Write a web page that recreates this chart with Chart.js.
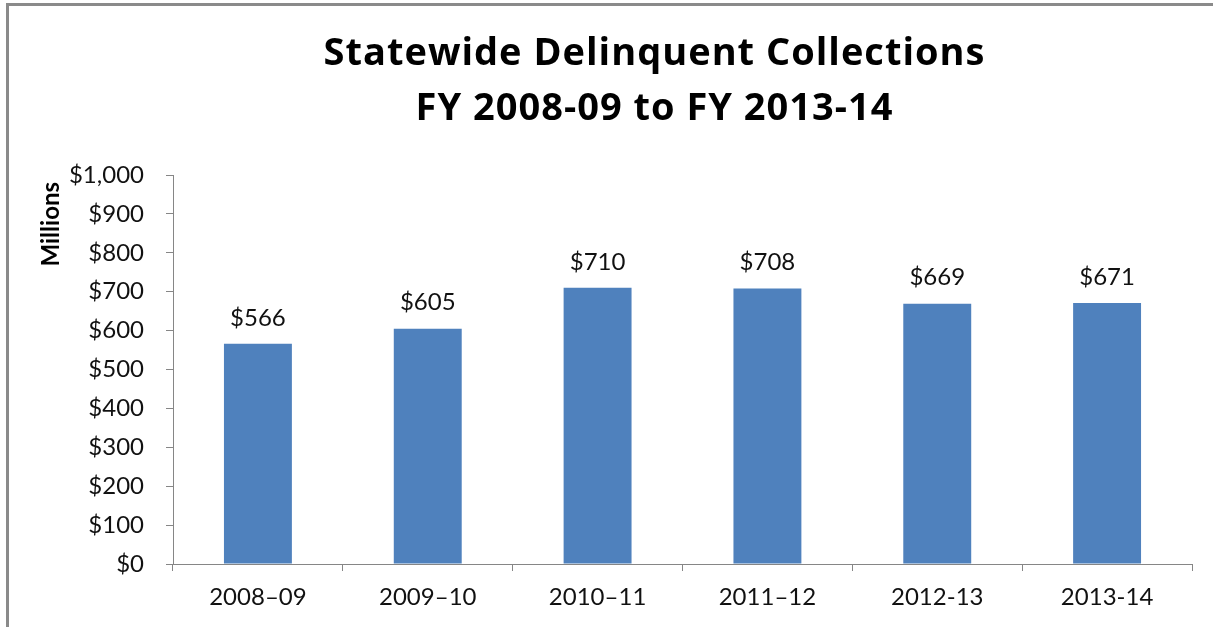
<!DOCTYPE html>
<html>
<head>
<meta charset="utf-8">
<script src="https://cdn.jsdelivr.net/npm/chart.js@4.4.1/dist/chart.umd.min.js"></script>
<style>
  html, body { margin: 0; padding: 0; background: #fff; overflow: hidden; }
  #wrap { position: absolute; left: 0; top: 0; width: 1213px; height: 627px; }
  #frame {
    position: absolute; left: 6px; top: 3px; width: 1400px; height: 800px;
    border-left: 3px solid #8a8a8a; border-top: 3px solid #8a8a8a;
    pointer-events: none;
  }
</style>
</head>
<body>
<div id="wrap"><canvas id="chart" width="1213" height="627"></canvas></div>
<div id="frame"></div>
<script>
// data (millions of dollars)
const years = ['2008\u201309', '2009\u201310', '2010\u201311', '2011\u201312', '2012-13', '2013-14'];
const collections = [566, 605, 710, 708, 669, 671];
const titleLines = ['Statewide Delinquent Collections', 'FY 2008-09 to FY 2013-14'];
const axisTitle = 'Millions';

const FONT = 'Lato, "Open Sans", sans-serif';
const TITLE_FONT = '"Open Sans", Lato, sans-serif';

const money = v => '$' + Number(v).toLocaleString('en-US');

// labels above each bar
const barLabels = {
  id: 'barLabels',
  afterDatasetsDraw(chart) {
    const ctx = chart.ctx;
    const meta = chart.getDatasetMeta(0);
    ctx.save();
    ctx.font = '24px ' + FONT;
    ctx.fillStyle = '#111';
    ctx.textAlign = 'center';
    ctx.textBaseline = 'middle';
    meta.data.forEach((bar, i) => {
      ctx.fillText(money(collections[i]), bar.x, bar.y - 26);
    });
    ctx.restore();
  }
};

// chart title (sits a bit left of the plot centre, as in the original)
// and the rotated "Millions" label, top-aligned near the axis top
const headings = {
  id: 'headings',
  afterDraw(chart) {
    const ctx = chart.ctx;
    const area = chart.chartArea;
    ctx.save();
    ctx.fillStyle = '#000';
    ctx.textAlign = 'center';
    ctx.textBaseline = 'alphabetic';
    ctx.font = 'bold 38px ' + TITLE_FONT;
    ctx.letterSpacing = '1px';
    const cx = (area.left + area.right) / 2 - 28;
    ctx.fillText(titleLines[0], cx, 65);
    ctx.fillText(titleLines[1], cx, 120);

    ctx.letterSpacing = '0px';
    ctx.font = 'bold 24px ' + FONT;
    ctx.translate(51, area.top + 7);
    ctx.rotate(-Math.PI / 2);
    ctx.textAlign = 'right';
    ctx.textBaseline = 'middle';
    ctx.fillText(axisTitle, 0, 0);
    ctx.restore();
  }
};

new Chart(document.getElementById('chart'), {
  type: 'bar',
  data: {
    labels: years,
    datasets: [{
      data: collections,
      backgroundColor: '#4f81bd',
      borderWidth: 0,
      barPercentage: 0.4,
      categoryPercentage: 1
    }]
  },
  options: {
    responsive: false,
    animation: false,
    layout: { padding: { left: 0, top: 175, right: 21, bottom: 0 } },
    plugins: {
      legend: { display: false },
      tooltip: { enabled: false },
      title: { display: false }
    },
    scales: {
      x: {
        grid: {
          offset: true,
          drawOnChartArea: false,
          tickLength: 7,
          tickColor: '#868686'
        },
        border: { color: '#868686', width: 1 },
        ticks: { color: '#111', font: { family: FONT, size: 24 }, padding: 12 },
        afterFit(scale) { scale.height = 63; }
      },
      y: {
        min: 0,
        max: 1000,
        grid: {
          drawOnChartArea: false,
          tickLength: 7,
          tickColor: '#868686'
        },
        border: { color: '#868686', width: 1 },
        ticks: {
          stepSize: 100,
          color: '#111',
          font: { family: FONT, size: 24 },
          padding: 22,
          callback: v => money(v)
        },
        afterFit(scale) { scale.width = 173; }
      }
    }
  },
  plugins: [barLabels, headings]
});
</script>
</body>
</html>
